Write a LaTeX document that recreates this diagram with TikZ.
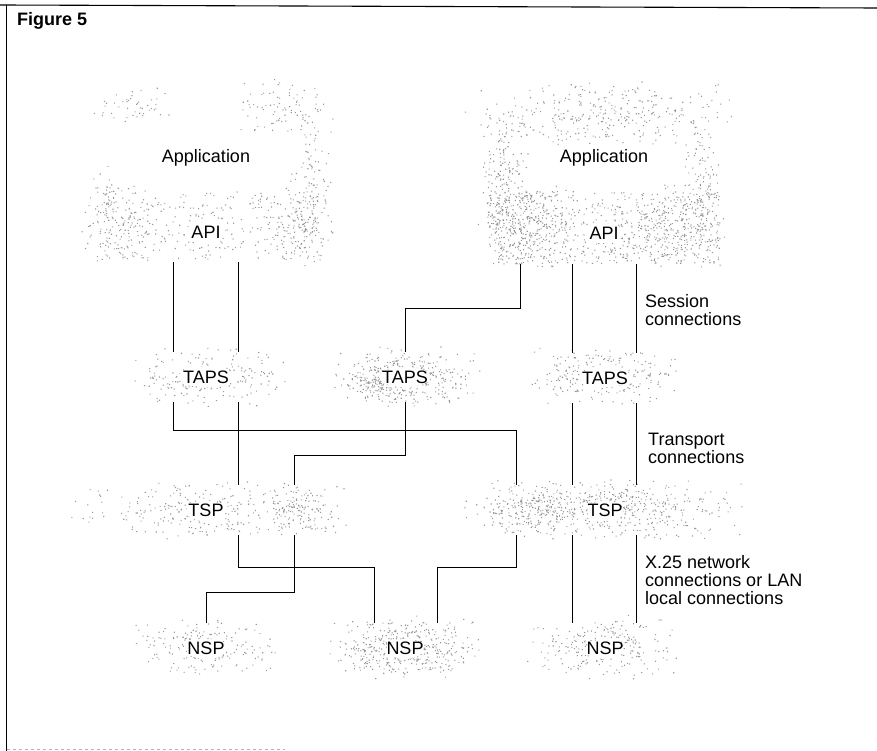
\documentclass[tikz,border=0pt]{standalone}
\usepackage{fontspec}
\setmainfont{Liberation Sans}
\colorlet{speckc}{black!40}
\newcount\spkcount
\newcommand\speckit[6]{% cx cy hw hh n spread
  \begin{pgfscope}%
  \spkcount=0
  \loop\ifnum\spkcount<#5\relax
    \pgfmathsetmacro\spkx{#1+#6*#3}%
    \pgfmathsetmacro\spky{-(#2+#6*#4)}%
    \pgfpathrectangle{\pgfpoint{\spkx pt}{\spky pt}}{\pgfqpoint{1.1pt}{1.1pt}}%
    \advance\spkcount by 1
  \repeat
  \pgfsetfillcolor{speckc}\pgfusepath{fill}%
  \end{pgfscope}}
\newcommand\speck[5]{\speckit{#1}{#2}{#3}{#4}{#5}{rand}}
\newcommand\halo[5]{\speckit{#1}{#2}{#3}{#4}{#5}{0.62*(rand+rand)}}
\begin{document}
\begin{tikzpicture}[x=1pt,y=-1pt,
  lbl/.style={inner sep=0pt,font=\fontsize{18}{18}\selectfont},
  blk/.style={lbl,minimum width=80pt,minimum height=50pt},
  note/.style={inner sep=0pt,font=\fontsize{18}{18}\selectfont,align=left,anchor=north west},
  conn/.style={line width=0.9pt,black},
  clear/.style={fill=white}]
\useasboundingbox (0,0) rectangle (877,751);
\pgfmathsetseed{11}
% frame
\draw[line width=1.1pt] (0,5) -- (877,8);
\draw[line width=1.1pt] (6.5,5) -- (6.5,751);
\draw[black!30,dashed,line width=0.8pt] (6.5,749.5) -- (285,749.5);
\node[anchor=west,inner sep=0pt,font=\bfseries\fontsize{18}{20}\selectfont] (fig) at (17,21) {Figure 5};
% stippling: application / API
\halo{130}{105}{40}{16}{45}
\halo{285}{110}{42}{28}{90}
\halo{312}{170}{14}{42}{50}
\halo{105}{200}{12}{30}{35}
\speck{210}{226}{112}{34}{300}
\halo{120}{225}{32}{34}{110}
\halo{300}{222}{30}{40}{160}
\halo{603}{115}{115}{28}{320}
\halo{505}{175}{22}{60}{170}
\halo{700}{170}{16}{55}{90}
\speck{603}{228}{116}{36}{680}
\halo{525}{225}{40}{40}{240}
\halo{680}{225}{40}{40}{200}
% TAPS
\halo{206}{377}{66}{26}{200}
\halo{405}{377}{64}{26}{340}\halo{380}{380}{30}{18}{130}
\halo{605}{377}{66}{26}{240}
% TSP
\halo{206}{510}{118}{26}{280}\halo{300}{510}{30}{24}{110}
\halo{605}{510}{120}{26}{540}\halo{530}{510}{40}{24}{140}
% NSP
\halo{206}{648}{66}{26}{190}
\halo{405}{648}{64}{26}{440}
\halo{605}{648}{66}{26}{240}
% clear zones behind the labels
\fill[clear] (206,157) ellipse (52 and 12);
\fill[clear] (604,157) ellipse (52 and 12);
\foreach \p/\w in {{(206,232)}/20,{(604,233)}/20,{(206,377)}/28,{(405,377)}/26,{(605,377)}/26,{(206,511)}/20,{(605,511)}/18,{(206,649)}/20,{(405,649)}/18,{(605,649)}/18}
  \fill[clear] \p ellipse (\w pt and 10pt);
% nodes
\node[lbl] (app1) at (206,158) {Application};
\node[lbl] (app2) at (604,158) {Application};
\node[blk,minimum height=60pt] (api1) at (206,232) {API};
\node[blk,minimum height=62pt] (api2) at (604,233) {API};
\node[blk] (taps1) at (206,377) {TAPS};
\node[blk] (taps2) at (405,377) {TAPS};
\node[blk] (taps3) at (605,378) {TAPS};
\node[blk] (tsp1) at (206,510) {TSP};
\node[blk] (tsp2) at (605,510) {TSP};
\node[blk] (nsp1) at (206,648) {NSP};
\node[blk] (nsp2) at (405,648) {NSP};
\node[blk] (nsp3) at (605,648) {NSP};
% session connections
\draw[conn] ([xshift=-33pt]api1.south) -- ([xshift=-33pt]taps1.north);
\draw[conn] ([xshift=32pt]api1.south) -- ([xshift=32pt]taps1.north);
\draw[conn] ([xshift=-84pt]api2.south) -- ++(0,44) -| (taps2.north);
\draw[conn] ([xshift=-32pt]api2.south) -- ([xshift=-33pt]taps3.north);
\draw[conn] ([xshift=32pt]api2.south) -- ([xshift=31pt]taps3.north);
% transport connections
\draw[conn] ([xshift=-33pt]taps1.south) -- ++(0,28) -| ([xshift=-89pt]tsp2.north);
\draw[conn] ([xshift=32pt]taps1.south) -- ([xshift=32pt]tsp1.north);
\draw[conn] (taps2.south) -- ++(0,53) -| ([xshift=88pt]tsp1.north);
\draw[conn] ([xshift=-33pt]taps3.south) -- ([xshift=-33pt]tsp2.north);
\draw[conn] ([xshift=31pt]taps3.south) -- ([xshift=31pt]tsp2.north);
% network connections
\draw[conn] ([xshift=32pt]tsp1.south) -- ++(0,32) -| ([xshift=-31pt]nsp2.north);
\draw[conn] ([xshift=88pt]tsp1.south) -- ++(0,57) -| (nsp1.north);
\draw[conn] ([xshift=-89pt]tsp2.south) -- ++(0,32) -| ([xshift=32pt]nsp2.north);
\draw[conn] ([xshift=-33pt]tsp2.south) -- ([xshift=-33pt]nsp3.north);
\draw[conn] ([xshift=31pt]tsp2.south) -- ([xshift=31pt]nsp3.north);
% notes
\node[note] (n1) at (645,294) {Session\\connections};
\node[note] (n2) at (648,433) {Transport\\connections};
\node[note] (n3) at (645,555) {X.25 network\\connections or LAN\\local connections};
\end{tikzpicture}
\end{document}
